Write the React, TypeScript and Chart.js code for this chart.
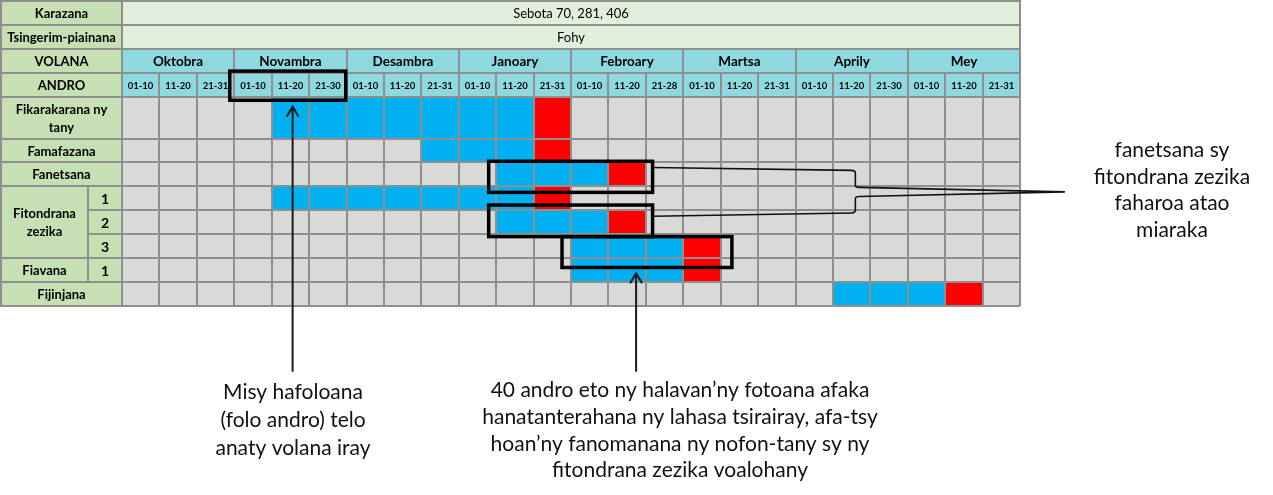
import React, { useEffect, useRef } from 'react';
import { Chart, registerables } from 'chart.js';

Chart.register(...registerables);

// ---------- data ----------
const varietyLabel = 'Karazana';
const varietyValue = 'Sebota 70, 281, 406';
const cycleLabel = 'Tsingerim-piainana';
const cycleValue = 'Fohy';
const monthLabel = 'VOLANA';
const dayLabel = 'ANDRO';
const months = ['Oktobra', 'Novambra', 'Desambra', 'Janoary', 'Febroary', 'Martsa', 'Aprily', 'Mey'];
const decades = [
  '01-10', '11-20', '21-31',
  '01-10', '11-20', '21-30',
  '01-10', '11-20', '21-31',
  '01-10', '11-20', '21-31',
  '01-10', '11-20', '21-28',
  '01-10', '11-20', '21-31',
  '01-10', '11-20', '21-30',
  '01-10', '11-20', '21-31',
];
const groupLabels = ['Fikarakarana ny\ntany', 'Famafazana', 'Fanetsana', 'Fitondrana\nzezika', 'Fiavana', 'Fijinjana'];
const groupRowCount = [1, 1, 1, 3, 1, 1];
const subLabels = ['', '', '', '1', '2', '3', '1', ''];
// first decade (column index) of the work period, and the last allowed decade (red)
const workStart = [4, 8, 10, 4, 10, 12, 12, 19];
const deadline = [11, 11, 13, 11, 13, 15, 15, 22];

const noteRight = ['fanetsana sy', 'fitondrana zezika', 'faharoa atao', 'miaraka'];
const noteLeft = ['Misy hafoloana', '(folo andro) telo', 'anaty volana iray'];
const noteMid = [
  '40 andro eto ny halavan\u2019ny fotoana afaka',
  'hanatanterahana ny lahasa tsirairay, afa-tsy',
  'hoan\u2019ny fanomanana ny nofon-tany sy ny',
  'fitondrana zezika voalohany',
];

// ---------- layout / style ----------
const rowUnits = [1.75, 1, 1, 1, 1, 1, 1, 1];
const HEADER_ROWS = 4;
const GRID = '#8f8f8f';
const GRID_W = 2;
const BLUE = '#00B0F0';
const RED = '#FF0000';
const CELL = '#D9D9D9';
const LABEL_FILL = '#C6E0B4';
const INFO_FILL = '#E2EFDA';
const HEAD_FILL = '#8ED9DF';
const FONT = 'Lato, "Liberation Sans", sans-serif';

const rowTops: number[] = [];
rowUnits.forEach((u, i) => rowTops.push(i === 0 ? 0 : rowTops[i - 1] + rowUnits[i - 1]));
const rowTotal = rowTops[rowTops.length - 1] + rowUnits[rowUnits.length - 1];
const rowBounds = [-4, -3, -2, -1, ...rowTops, rowTotal];
const colBounds = decades.map((_, i) => i).concat([decades.length]);

// annotation geometry in scale units (x: decade columns, y: rows)
const boxes = [
  [2.88, 5.98, -1.07, 0.15],
  [9.8, 14.18, 2.7, 4.0],
  [9.8, 14.18, 4.53, 5.85],
  [11.76, 16.3, 5.85, 7.14],
];
const arrows = [
  [4.56, 11.5, 0.42],
  [13.74, 11.5, 7.38],
];

function drawCell(ctx: CanvasRenderingContext2D, x0: number, y0: number, x1: number, y1: number,
  fill: string, text: string, font: string, gap = 17) {
  x0 = Math.round(x0); x1 = Math.round(x1); y0 = Math.round(y0); y1 = Math.round(y1);
  ctx.fillStyle = fill;
  ctx.fillRect(x0, y0, x1 - x0, y1 - y0);
  ctx.strokeStyle = GRID;
  ctx.lineWidth = GRID_W;
  ctx.strokeRect(x0, y0, x1 - x0, y1 - y0);
  if (text) {
    const lines = text.split('\n');
    ctx.fillStyle = '#000';
    ctx.font = font;
    ctx.textAlign = 'center';
    ctx.textBaseline = 'middle';
    const cx = (x0 + x1) / 2;
    const cy = (y0 + y1) / 2 + 1;
    lines.forEach((l, k) => ctx.fillText(l, cx, cy + (k - (lines.length - 1) / 2) * gap));
  }
}

const tablePlugin = {
  id: 'tablePlugin',
  beforeDatasetsDraw(chart: any) {
    const { ctx, chartArea: a, scales } = chart;
    const top = scales.y.getPixelForValue(0);
    ctx.save();
    ctx.fillStyle = CELL;
    ctx.fillRect(a.left, top, a.right - a.left, a.bottom - top);
    ctx.restore();
  },
  afterDraw(chart: any) {
    const { ctx, chartArea: a, scales } = chart;
    const xs = scales.x;
    const ys = scales.y;
    const X = (v: number) => xs.getPixelForValue(v);
    const Y = (v: number) => ys.getPixelForValue(v);
    const L0 = 1;
    const L1 = a.left;
    const LS = a.left - 34;
    const bold = `bold 13px ${FONT}`;
    ctx.save();
    // header rows
    const n = decades.length;
    drawCell(ctx, L0, Y(-4), L1, Y(-3), LABEL_FILL, varietyLabel, bold);
    drawCell(ctx, X(0), Y(-4), X(n), Y(-3), INFO_FILL, varietyValue, `13px ${FONT}`);
    drawCell(ctx, L0, Y(-3), L1, Y(-2), LABEL_FILL, cycleLabel, bold);
    drawCell(ctx, X(0), Y(-3), X(n), Y(-2), INFO_FILL, cycleValue, `13px ${FONT}`);
    drawCell(ctx, L0, Y(-2), L1, Y(-1), LABEL_FILL, monthLabel, bold);
    months.forEach((m, i) => drawCell(ctx, X(i * 3), Y(-2), X(i * 3 + 3), Y(-1), HEAD_FILL, m, `bold 13.5px ${FONT}`));
    drawCell(ctx, L0, Y(-1), L1, Y(0), LABEL_FILL, dayLabel, bold);
    decades.forEach((d, i) => drawCell(ctx, X(i), Y(-1), X(i + 1), Y(0), HEAD_FILL, d, `bold 9.5px ${FONT}`));
    // row labels
    let r = 0;
    groupLabels.forEach((g, gi) => {
      const cnt = groupRowCount[gi];
      const top = rowTops[r];
      const bottom = rowTops[r + cnt - 1] + rowUnits[r + cnt - 1];
      const hasSub = subLabels.slice(r, r + cnt).some((s) => s);
      drawCell(ctx, L0, Y(top), hasSub ? LS : L1, Y(bottom), LABEL_FILL, g, bold, 18);
      if (hasSub) {
        for (let k = r; k < r + cnt; k++) {
          drawCell(ctx, LS, Y(rowTops[k]), L1, Y(rowTops[k] + rowUnits[k]), LABEL_FILL, subLabels[k], `bold 14px ${FONT}`);
        }
      }
      r += cnt;
    });

    // callout boxes
    ctx.strokeStyle = '#000';
    ctx.lineWidth = 3.5;
    boxes.forEach(([x0, x1, y0, y1]) => {
      ctx.strokeRect(X(x0), Y(y0), X(x1) - X(x0), Y(y1) - Y(y0));
    });
    // arrows
    ctx.strokeStyle = '#1a1a1a';
    ctx.lineWidth = 2;
    arrows.forEach(([x, tail, tip]) => {
      const px = X(x);
      ctx.beginPath();
      ctx.moveTo(px, Y(tail));
      ctx.lineTo(px, Y(tip));
      ctx.moveTo(px - 6, Y(tip) + 10);
      ctx.lineTo(px, Y(tip));
      ctx.lineTo(px + 6, Y(tip) + 10);
      ctx.stroke();
    });
    // connector brace
    ctx.lineWidth = 1.6;
    ctx.strokeStyle = '#111';
    ctx.beginPath();
    ctx.moveTo(X(14.18), Y(2.96));
    ctx.lineTo(X(19.5), Y(3.08));
    ctx.quadraticCurveTo(X(19.6), Y(3.08), X(19.6), Y(3.2));
    ctx.lineTo(X(19.6), Y(3.7));
    ctx.quadraticCurveTo(X(19.6), Y(3.79), X(19.7), Y(3.79));
    ctx.lineTo(X(25.2), Y(3.98));
    ctx.moveTo(X(14.18), Y(5.0));
    ctx.lineTo(X(19.5), Y(4.86));
    ctx.quadraticCurveTo(X(19.6), Y(4.86), X(19.6), Y(4.74));
    ctx.lineTo(X(19.6), Y(4.26));
    ctx.quadraticCurveTo(X(19.6), Y(4.17), X(19.7), Y(4.17));
    ctx.lineTo(X(25.2), Y(3.98));
    ctx.stroke();

    // notes
    ctx.fillStyle = '#111';
    ctx.font = `21px ${FONT}`;
    ctx.textAlign = 'center';
    ctx.textBaseline = 'alphabetic';
    noteRight.forEach((t, i) => ctx.fillText(t, 1172, 157 + i * 26.7));
    noteLeft.forEach((t, i) => ctx.fillText(t, 293, 398.5 + i * 28));
    noteMid.forEach((t, i) => ctx.fillText(t, 680, 397.4 + i * 26.6));
    ctx.restore();
  },
};

export default function App() {
  const ref = useRef<HTMLCanvasElement>(null);
  useEffect(() => {
    if (!ref.current) return;
    const datasets = rowUnits.map((u, i) => {
      const center = rowTops[i] + u / 2;
      return {
        label: subLabels[i] || String(i),
        data: [
          { y: center, x: [workStart[i], deadline[i]] },
          { y: center, x: [deadline[i], deadline[i] + 1] },
        ],
        backgroundColor: [BLUE, RED],
        borderWidth: 0,
        grouped: false,
        barThickness: (c: any) => {
          const y = c.chart.scales.y;
          if (!y) return 24;
          const h = Math.abs(y.getPixelForValue(rowTops[i] + u) - y.getPixelForValue(rowTops[i]));
          return isFinite(h) && h > 0 ? h : 24;
        },
      };
    });
    const chart = new Chart(ref.current, {
      type: 'bar',
      data: { datasets } as any,
      options: {
        animation: false,
        responsive: false,
        devicePixelRatio: 1,
        indexAxis: 'y',
        layout: { padding: { left: 122, top: 1, right: 253, bottom: 189 } },
        plugins: { legend: { display: false }, tooltip: { enabled: false } },
        scales: {
          x: {
            type: 'linear',
            min: 0,
            max: decades.length,
            offset: false,
            grid: { color: GRID, lineWidth: GRID_W, drawTicks: false, z: 1, offset: false },
            border: { display: false },
            ticks: { display: false },
            afterBuildTicks: (s: any) => { s.ticks = colBounds.map((v) => ({ value: v })); },
          },
          y: {
            type: 'linear',
            reverse: true,
            min: -HEADER_ROWS,
            max: rowTotal,
            offset: false,
            grid: { color: GRID, lineWidth: GRID_W, drawTicks: false, z: 1, offset: false },
            border: { display: false },
            ticks: { display: false },
            afterBuildTicks: (s: any) => { s.ticks = rowBounds.map((v) => ({ value: v })); },
          },
        },
      } as any,
      plugins: [tablePlugin],
    });
    const fonts = (document as any).fonts;
    if (fonts && fonts.load) {
      Promise.all([fonts.load(`bold 13px Lato`), fonts.load(`21px Lato`)]).then(() => chart.draw()).catch(() => {});
    }
    return () => chart.destroy();
  }, []);
  return (
    <div style={{ position: 'absolute', left: 0, top: 0, width: 1273, height: 495, background: '#fff' }}>
      <canvas ref={ref} width={1273} height={495} style={{ display: 'block' }} />
    </div>
  );
}
